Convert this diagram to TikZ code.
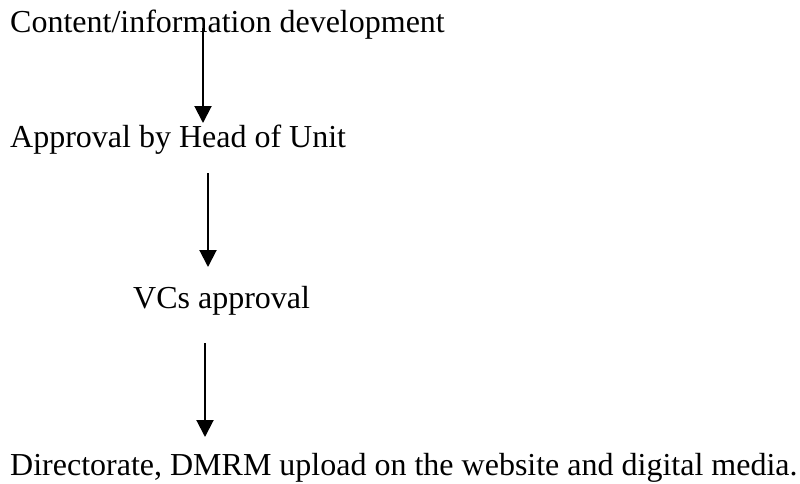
\documentclass[tikz,border=0pt]{standalone}
\usepackage{fontspec}
\setmainfont{Liberation Serif}
\usetikzlibrary{arrows.meta}
\begin{document}
\begin{tikzpicture}[x=1pt,y=-1pt,
  lbl/.style={anchor=base west,inner sep=0pt,font=\fontsize{32}{38}\selectfont},
  flow/.style={line width=2pt,-{Triangle[length=17pt,width=17pt]}}]
\useasboundingbox[fill=white] (0,0) rectangle (800,483);
\node[lbl] (t1) at (10,32) {Content/information development};
\node[lbl] (t2) at (10,147) {Approval by Head of Unit};
\node[lbl] (t3) at (133,308) {VCs approval};
\node[lbl] (t4) at (10,475) {Directorate, DMRM upload on the website and digital media.};
\coordinate (a1s) at (203,28);
\coordinate (a1e) at (203,123);
\coordinate (a2s) at (208,173);
\coordinate (a2e) at (208,267);
\coordinate (a3s) at (205,343);
\coordinate (a3e) at (205,437);
\draw[flow] (a1s) -- (a1e);
\draw[flow] (a2s) -- (a2e);
\draw[flow] (a3s) -- (a3e);
\end{tikzpicture}
\end{document}
